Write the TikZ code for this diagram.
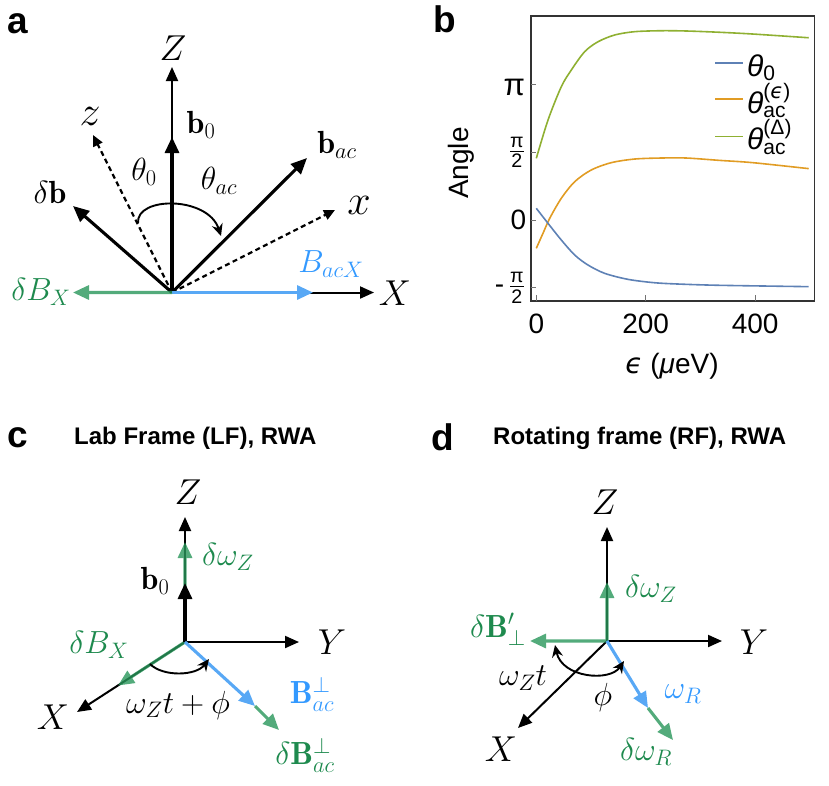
\RequirePackage{fix-cm}
\documentclass[tikz,border=0pt]{standalone}
\usepackage{amsmath}
\usepackage{fontspec}
\newfontfamily\helv{Liberation Sans}
\newfontfamily\dejav{DejaVu Sans}
\usetikzlibrary{arrows.meta}

\definecolor{vecblue}{RGB}{88,168,245}
\definecolor{labblue}{RGB}{51,153,255}
\definecolor{vecgreen}{RGB}{40,150,90}
\definecolor{labgreen}{RGB}{30,138,78}
\definecolor{curveblue}{RGB}{94,129,181}
\definecolor{curveorange}{RGB}{225,156,36}
\definecolor{curvegreen}{RGB}{143,176,50}

\tikzset{
  ax/.style={line width=2pt, -{Triangle[length=14pt,width=12pt]}},
  vec/.style={line width=3.1pt, -{Triangle[length=16pt,width=14pt]}},
  dashax/.style={line width=2.2pt, dash pattern=on 5pt off 3.5pt, -{Triangle[length=11pt,width=10pt]}},
  turn/.style={line width=1.9pt, -{Stealth[length=12pt,width=11pt]}},
  lbl/.style={inner sep=0pt, font=\fontsize{32}{37}\selectfont},
  axlbl/.style={inner sep=0pt, font=\fontsize{36}{41}\selectfont},
  smlbl/.style={inner sep=0pt, font=\fontsize{42}{48}\selectfont},
  panel/.style={inner sep=0pt, font=\helv\bfseries\fontsize{37}{42}\selectfont},
  ttl/.style={inner sep=0pt, font=\helv\bfseries\fontsize{24}{28}\selectfont},
  tlbl/.style={inner sep=0pt, font=\helv\fontsize{28}{32}\selectfont},
  leg/.style={inner sep=0pt, font=\helv\fontsize{30}{34}\selectfont},
  frm/.style={line width=1.5pt, black!80},
  tck/.style={line width=1pt, black!55},
  crv/.style={line width=1.6pt}
}

\begin{document}
\begin{tikzpicture}[x=1pt, y=-1pt]
\useasboundingbox (0,0) rectangle (829,785);

% panel a
\node[panel] (pa) at (17.5,24) {a};
\coordinate (oa) at (172,292.5);
\coordinate (Za) at (172,67);
\coordinate (b0a) at (172,137);
\coordinate (za) at (93,135);
\coordinate (xa) at (335,210);
\coordinate (baca) at (307,158);
\coordinate (dba) at (73,206);
\coordinate (Xa) at (374,292.5);
\coordinate (BXa) at (313,292.5);
\coordinate (dBXa) at (73,292.5);
\coordinate (arca1) at (138,223);
\coordinate (arca2) at (221,236);

\draw[dashax] (oa) -- (za);
\draw[dashax] (oa) -- (xa);
\draw[ax] (oa) -- (Za);
\draw[vec] (oa) -- (b0a);
\draw[vec] (oa) -- (dba);
\draw[vec] (oa) -- (baca);
\draw[ax] (oa) -- (Xa);
\draw[vec, vecblue] (oa) -- (BXa);
\begin{scope}[transparency group, opacity=0.8]
  \draw[vec, vecgreen] (oa) -- (dBXa);
\end{scope}
\draw[turn] (arca1) .. controls (136,196) and (208,196) .. (arca2);

\node[axlbl] (Zla) at (173,48) {$Z$};
\node[lbl] (b0la) at (201,125) {$\mathbf{b}_0$};
\node[smlbl] (zla) at (90,116) {$z$};
\node[lbl] (bacla) at (337,145) {$\mathbf{b}_{ac}$};
\node[lbl] (th0la) at (144,172) {$\theta_0$};
\node[lbl] (thacla) at (219,181) {$\theta_{ac}$};
\node[smlbl] (xla) at (359,205) {$x$};
\node[lbl] (dbla) at (50,192) {$\delta\mathbf{b}$};
\node[lbl, labblue] (BXla) at (331,264) {$B_{acX}$};
\node[lbl, labgreen] (dBXla) at (41,292) {$\delta B_X$};
\node[axlbl] (Xla) at (395,293) {$X$};

% panel b
\node[panel] (pb) at (445,19) {b};
\begin{scope}[shift={(536.3,220)}, x=0.547pt, y=67.6pt]
  \draw[frm] (-9.7,-1.2) rectangle (509,3.02);
  \foreach \v in {-1,0,1,2} \draw[tck] (-9.7,\v) -- ++(9,0);
  \foreach \e in {0,200,400} \draw[tck] (\e,-1.2) -- ++(0,0.085);
  \draw[crv, curvegreen] plot[smooth] coordinates {(0,0.912) (21.4,1.479) (45.7,1.972) (64,2.219) (88.4,2.49) (112.8,2.637) (143.3,2.737) (179.9,2.786) (228.6,2.80) (274,2.796) (335,2.777) (396,2.751) (498,2.696)};
  \draw[crv, curveorange] plot[smooth] coordinates {(0,-0.419) (12.2,-0.197) (24.5,0.025) (45.7,0.321) (70.2,0.567) (100.5,0.74) (137,0.848) (179.9,0.902) (228.6,0.917) (274,0.917) (335,0.882) (396,0.848) (498,0.76)};
  \draw[crv, curveblue] plot[smooth] coordinates {(0,0.173) (21.4,-0.049) (45.7,-0.296) (70.2,-0.518) (94.5,-0.666) (125,-0.789) (167.6,-0.878) (214.8,-0.927) (259,-0.947) (335,-0.966) (498,-0.986)};
  \node[tlbl, anchor=east, font=\helv\fontsize{31}{34}\selectfont] (ytp) at (-20.5,1.96) {π};
  \node[tlbl, anchor=east] (ytph) at (-20.5,1) {$\frac{\text{π}}{\text{2}}$};
  \node[tlbl, anchor=east] (ytz) at (-18,0) {0};
  \node[tlbl, anchor=east] (ytmh) at (-20.5,-1) {-\,$\frac{\text{π}}{\text{2}}$};
  \node[tlbl, anchor=north] (xt0) at (0,-1.39) {0};
  \node[tlbl, anchor=north] (xt200) at (200,-1.39) {200};
  \node[tlbl, anchor=north] (xt400) at (400,-1.39) {400};
\end{scope}
\node[tlbl, rotate=90] (angl) at (461,163) {Angle};
\node[tlbl] (epsl) at (672,366) {{\dejav\itshape ϵ} ({\itshape μ}eV)};
\draw[crv, curveblue] (715,63) -- (743,63);
\draw[crv, curveorange] (715,99) -- (743,99);
\draw[crv, curvegreen] (715,136.5) -- (743,136.5);
\node[leg, anchor=base west] (lg0) at (747,76) {\itshape θ$_{\text{\upshape 0}}$};
\node[leg, anchor=base west] (lge) at (747,113) {\itshape θ$^{\text{\upshape(\dejav\itshape ϵ\helv\upshape)}}_{\text{\upshape ac}}$};
\node[leg, anchor=base west] (lgd) at (747,149.5) {\itshape θ$^{\text{\upshape(Δ)}}_{\text{\upshape ac}}$};

% panel c
\node[panel] (pc) at (17.5,437.5) {c};
\node[ttl, anchor=base west] (tc) at (74,444) {Lab Frame (LF), RWA};
\coordinate (oc) at (185,642);
\coordinate (Zc) at (185,517);
\coordinate (b0c) at (185,583);
\coordinate (dwZc) at (185,542);
\coordinate (Yc) at (299,642);
\coordinate (Xc) at (77,712);
\coordinate (dBXc) at (118,685.5);
\coordinate (Bc) at (255,706);
\coordinate (dBc) at (279,730);
\coordinate (arcc1) at (150,664);
\coordinate (arcc2) at (209,659);

\draw[ax] (oc) -- (Zc);
\draw[ax] (oc) -- (Yc);
\draw[ax] (oc) -- (Xc);
\begin{scope}[transparency group, opacity=0.8]
  \draw[vec, vecgreen] (oc) -- (dwZc);
  \draw[vec, vecgreen] (oc) -- (dBXc);
  \draw[vec, vecgreen] (Bc) -- (dBc);
\end{scope}
\draw[vec] (oc) -- (b0c);
\draw[vec, vecblue] (oc) -- (Bc);
\draw[turn] (arcc1) .. controls (163,677) and (196,676) .. (arcc2);

\node[axlbl] (Zlc) at (188,492) {$Z$};
\node[lbl, labgreen] (dwZlc) at (228,557) {$\delta\omega_Z$};
\node[lbl] (b0lc) at (155,581) {$\mathbf{b}_0$};
\node[lbl, labgreen] (dBXlc) at (99,645) {$\delta B_X$};
\node[axlbl] (Ylc) at (332,642) {$Y$};
\node[axlbl] (Xlc) at (53,717) {$X$};
\node[lbl] (wlc) at (178,705) {$\omega_Z t+\phi$};
\node[lbl, labblue] (Blc) at (312,694) {$\mathbf{B}_{ac}^{\perp}$};
\node[lbl, labgreen] (dBlc) at (305,755) {$\delta\mathbf{B}_{ac}^{\perp}$};

% panel d
\node[panel] (pd) at (443,437) {d};
\node[ttl, anchor=base west] (td) at (493,444) {Rotating frame (RF), RWA};
\coordinate (od) at (607,641);
\coordinate (Zd) at (607,527);
\coordinate (dwZd) at (607,582);
\coordinate (Yd) at (722,641);
\coordinate (dBd) at (530,641);
\coordinate (Xd) at (518,728);
\coordinate (wRd) at (648,708);
\coordinate (dwRd) at (673,740);
\coordinate (arcd1) at (555,645);
\coordinate (arcd2) at (624,661);

\draw[ax] (od) -- (Zd);
\draw[ax] (od) -- (Yd);
\draw[ax] (od) -- (Xd);
\begin{scope}[transparency group, opacity=0.8]
  \draw[vec, vecgreen] (od) -- (dwZd);
  \draw[vec, vecgreen] (od) -- (dBd);
  \draw[vec, vecgreen] (wRd) -- (dwRd);
\end{scope}
\draw[vec, vecblue] (od) -- (wRd);
\draw[turn, {Stealth[length=12pt,width=11pt]}-{Stealth[length=12pt,width=11pt]}] (arcd1) .. controls (562,678) and (610,682) .. (arcd2);

\node[axlbl] (Zld) at (605,502) {$Z$};
\node[lbl, labgreen] (dwZld) at (651,589) {$\delta\omega_Z$};
\node[lbl, labgreen] (dBld) at (498,629) {$\delta\mathbf{B}'_{\perp}$};
\node[axlbl] (Yld) at (754,642) {$Y$};
\node[lbl] (wld) at (523,678) {$\omega_Z t$};
\node[lbl] (phld) at (603,697) {$\phi$};
\node[lbl, labblue] (wRld) at (683,694) {$\omega_R$};
\node[axlbl] (Xld) at (501,749) {$X$};
\node[lbl, labgreen] (dwRld) at (646,752) {$\delta\omega_R$};

\end{tikzpicture}
\end{document}
